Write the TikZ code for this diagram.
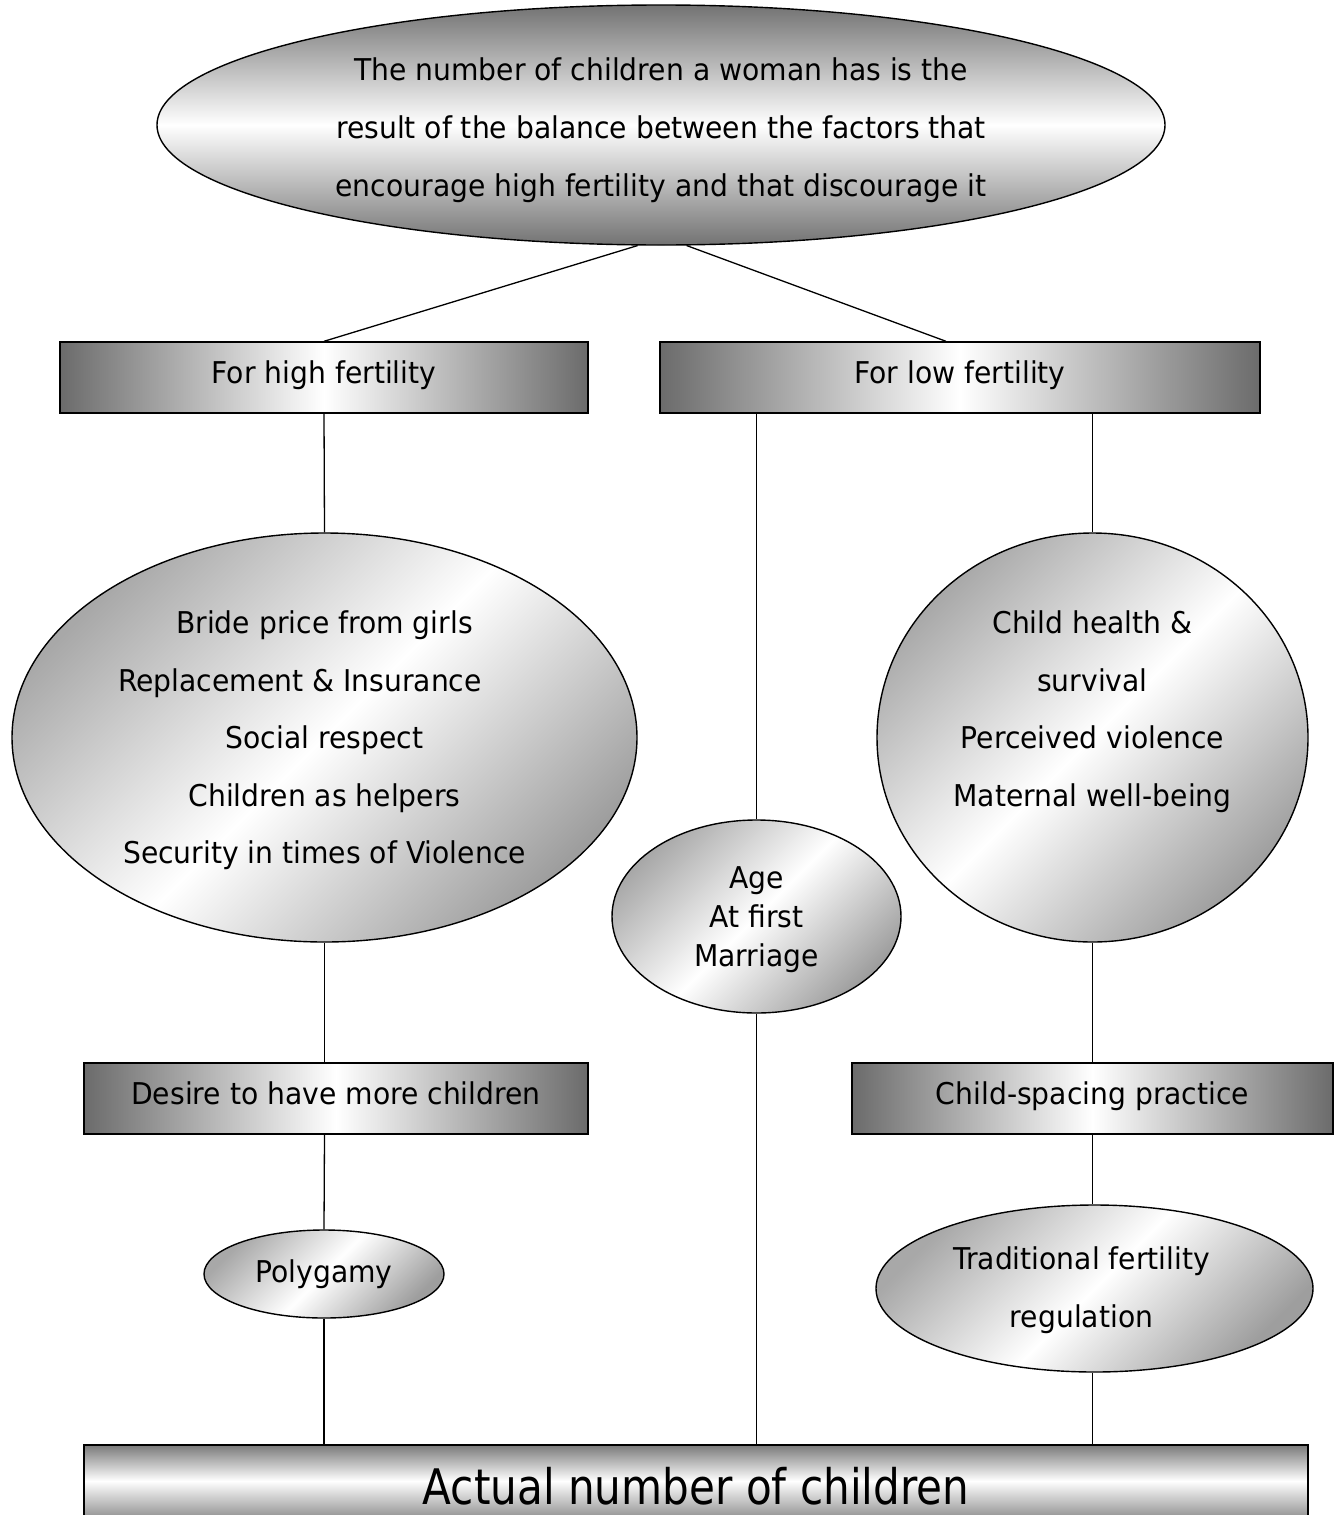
\documentclass[tikz,border=0pt]{standalone}
\usepackage{fontspec}
\setmainfont[FakeStretch=0.94]{DejaVu Sans}
\newfontfamily\actfont[FakeStretch=0.86]{DejaVu Sans}
\usetikzlibrary{shapes.geometric}
\tikzset{
  base/.style={draw=black, line width=1.4pt, inner sep=0pt, align=center,
    font=\fontsize{30}{57.5}\selectfont},
  hbar/.style={base, rectangle, left color=black!58, right color=black!58, middle color=white,
    text height=21pt, text depth=10pt},
  vbar/.style={base, rectangle, top color=black!52, bottom color=black!42, middle color=white},
  topoval/.style={base, ellipse, top color=black!55, bottom color=black!55, middle color=white},
  oval/.style={base, ellipse, left color=black!34, right color=black!38, middle color=white, shading angle=45},
  conn/.style={line width=1.3pt},
}
\begin{document}
\begin{tikzpicture}[x=1pt,y=-1pt]
\useasboundingbox (0,0) rectangle (1342,1515);
\clip (0,0) rectangle (1342,1515);
% top ellipse
\node[topoval, minimum width=1008pt, minimum height=240pt, font=\fontsize{30}{58}\selectfont] (top) at (661,125)
  {\rule{0pt}{33pt}The number of children a woman has is the\\ result of the balance between the factors that\\ encourage high fertility and that discourage it};
% bars
\node[hbar, minimum width=528pt, minimum height=71pt] (hf) at (324,377.5) {For high fertility};
\node[hbar, minimum width=600pt, minimum height=71pt] (lf) at (960,377.5) {For low fertility};
% big ellipses
\node[oval, minimum width=625pt, minimum height=409pt] (le) at (324.5,737.5)
  {\rule{0pt}{29pt}Bride price from girls\\ Replacement \& Insurance\rule{49pt}{0pt}\\ Social respect\\ Children as helpers\\ Security in times of Violence};
\node[oval, minimum width=431pt, minimum height=409pt] (rc) at (1092.5,737.5)
  {Child health \&\\ survival\\ Perceived violence\\ Maternal well-being\\ \mbox{}};
\node[oval, minimum width=289pt, minimum height=193pt, font=\fontsize{30}{39}\selectfont] (age) at (756.5,916.5)
  {\rule{0pt}{29pt}Age\\ At first\\ Marriage};
% second row bars
\node[hbar, minimum width=504pt, minimum height=71pt] (desire) at (336,1098.5) {Desire to have more children};
\node[hbar, minimum width=481pt, minimum height=71pt] (cs) at (1092.5,1098.5) {Child-spacing practice};
% small ellipses
\node[oval, minimum width=240pt, minimum height=88pt] (poly) at (324,1274) {Polygamy};
\node[oval, minimum width=437pt, minimum height=167pt, font=\fontsize{30}{58}\selectfont] (trad) at (1094.5,1288.5)
  {\rule{0pt}{27pt}Traditional fertility\rule{26pt}{0pt}\\ regulation\rule{26pt}{0pt}};
% bottom bar
\node[vbar, minimum width=1224pt, minimum height=72pt, text height=46pt, text depth=0pt,
  font=\actfont\fontsize{49}{49}\selectfont] (act) at (696,1481)
  {Actual number of children};
% connectors
\draw[conn] (top.-101.8) -- (hf.north);
\draw[conn] (top.-78.2) -- ([xshift=-14pt]lf.north);
\draw[conn] (hf.south) -- (le.north);
\draw[conn] (age.north |- lf.south) -- (age.north);
\draw[conn] (rc.north |- lf.south) -- (rc.north);
\draw[conn] (le.south) -- (le.south |- desire.north);
\draw[conn] (le.south |- desire.south) -- (poly.north);
\draw[conn] (poly.south) -- (poly.south |- act.north);
\draw[conn] (age.south) -- (age.south |- act.north);
\draw[conn] (rc.south) -- (rc.south |- cs.north);
\draw[conn] (rc.south |- cs.south) -- (rc.south |- trad.north);
\draw[conn] (rc.south |- trad.south) -- (rc.south |- act.north);
\end{tikzpicture}
\end{document}
